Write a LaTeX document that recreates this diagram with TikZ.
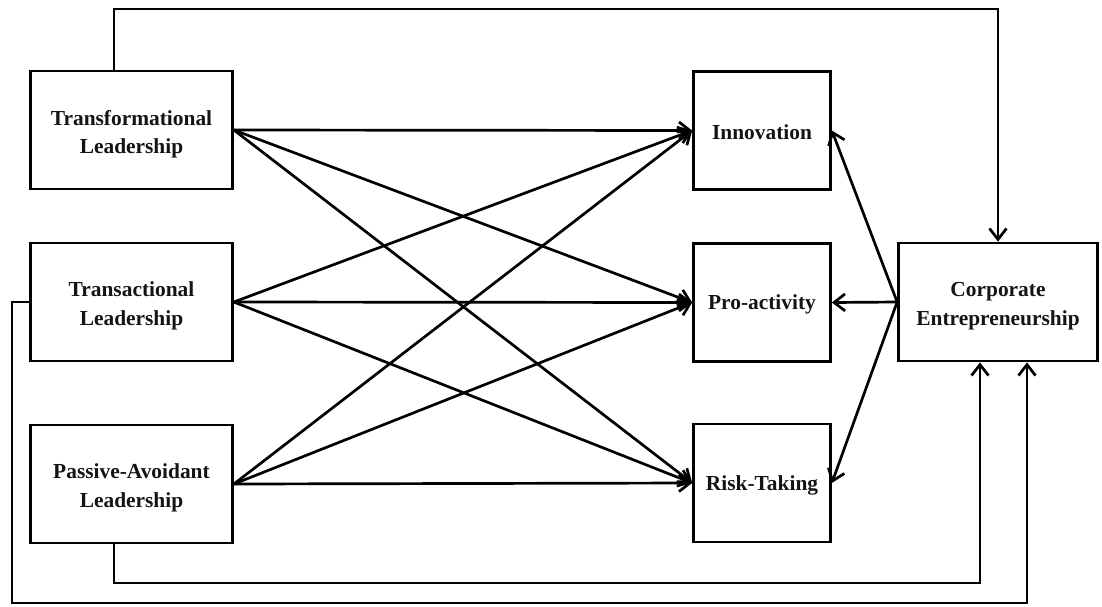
\documentclass[tikz,border=0pt]{standalone}
\usepackage{fontspec}
\setmainfont{Liberation Serif}
\usetikzlibrary{arrows.meta}
\begin{document}
\begin{tikzpicture}[x=1pt,y=-1pt,
  box/.style={draw, line width=2.7pt, inner sep=0pt},
  lab/.style={align=center, inner sep=0pt, text=black!92,
    font=\fontsize{21.4}{28.5}\selectfont\bfseries},
  two/.style={lab, yshift=-4pt},
  one/.style={lab, yshift=-2pt},
  leftbox/.style={box, minimum width=202pt, minimum height=118pt},
  midbox/.style={box, minimum width=137pt, minimum height=118pt},
  cebox/.style={box, minimum width=199pt, minimum height=118pt},
  tip/.style={-{Straight Barb[length=11pt,width=17pt,line width=2.7pt]}},
  link/.style={line width=2.7pt, tip},
  route/.style={line width=2.7pt, line join=miter, tip}
]
\useasboundingbox (0,0) rectangle (1102,606);

% leadership styles
\node[leftbox, label={[two]center:{Transformational\\Leadership}}] (tf) at (131.5,130) {};
\node[leftbox, label={[two]center:{Transactional\\Leadership}}] (ta) at (131.5,302) {};
\node[leftbox, label={[two]center:{Passive-Avoidant\\Leadership}}] (pa) at (131.5,484) {};

% dimensions
\node[midbox, label={[one]center:Innovation}] (in) at (762,130.5) {};
\node[midbox, label={[one]center:Pro-activity}] (pr) at (762,302.5) {};
\node[midbox, label={[one]center:Risk-Taking}] (rt) at (762,483) {};

% outcome
\node[cebox, label={[two]center:{Corporate\\Entrepreneurship}}] (ce) at (998,302) {};

% every style to every dimension
\foreach \s in {tf,ta,pa}{
  \foreach \d in {in,pr,rt}{
    \draw[link] (\s.east) -- (\d.west);
  }
}

% outcome to each dimension
\foreach \d in {in,pr,rt}{
  \draw[link] (ce.west) -- (\d.east);
}

% direct paths to the outcome
\coordinate (tfup) at ([xshift=-17.5pt]tf.north);
\coordinate (topy) at (0,9);
\draw[route] (tfup) -- (tfup |- topy) -| (ce.north);

\coordinate (padn) at ([xshift=-17.5pt]pa.south);
\coordinate (cein) at ([xshift=-18pt]ce.south);
\coordinate (midy) at (0,583);
\draw[route] (padn) -- (padn |- midy) -| (cein);

\coordinate (ceout) at ([xshift=29pt]ce.south);
\coordinate (leftx) at (12,0);
\coordinate (lowy) at (0,603);
\draw[route] (ta.west) -- (leftx |- ta.west) -- (leftx |- lowy) -| (ceout);
\end{tikzpicture}
\end{document}
